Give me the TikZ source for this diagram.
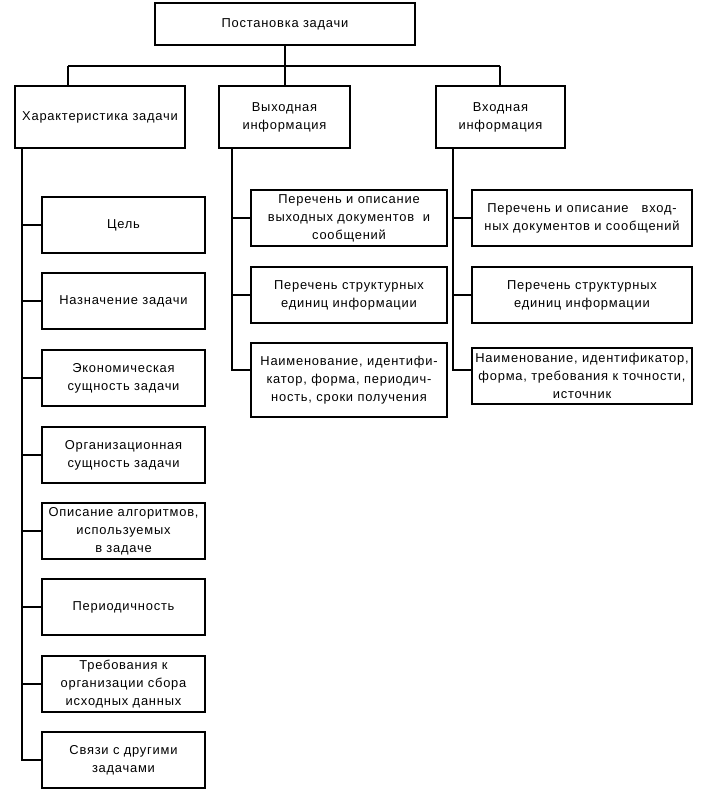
\documentclass[tikz,border=0pt]{standalone}
\usepackage{fontspec}
\setmainfont{Liberation Sans}[LetterSpace=6]
\begin{document}
\begin{tikzpicture}[x=1pt,y=-1pt,
  bx/.style={draw=black, line width=1.8pt, inner sep=0pt, align=center,
    font=\fontsize{12.9}{18}\selectfont},
  ln/.style={draw=black, line width=1.8pt},
  lft/.style={bx, minimum width=163, minimum height=56},
  mid/.style={bx, minimum width=196, minimum height=56},
  rgt/.style={bx, minimum width=220, minimum height=56}]
\useasboundingbox (0,0) rectangle (713,812);
\node[bx, minimum width=260, minimum height=42] (top) at (285,24) {Постановка задачи};
\node[bx, minimum width=170, minimum height=62] (c1) at (100,117) {Характеристика задачи};
\node[bx, minimum width=131, minimum height=62] (c2) at (284.5,117) {Выходная\\информация};
\node[bx, minimum width=129, minimum height=62] (c3) at (500.5,117) {Входная\\информация};
% tree
\coordinate (bus) at (285,66);
\coordinate (b1) at (68,66);
\coordinate (b3) at (500,66);
\draw[ln] (top.south) -- (bus);
\draw[ln] (b1) -- (b3);
\draw[ln] (b1) -- (b1 |- c1.north);
\draw[ln] (bus) -- (bus |- c2.north);
\draw[ln] (b3) -- (b3 |- c3.north);
% left column
\node[lft] (l1) at (123.5,225) {Цель};
\node[lft] (l2) at (123.5,301) {Назначение задачи};
\node[lft] (l3) at (123.5,378) {Экономическая\\сущность задачи};
\node[lft] (l4) at (123.5,455) {Организационная\\сущность задачи};
\node[lft] (l5) at (123.5,531) {Описание алгоритмов,\\используемых\\в задаче};
\node[lft] (l6) at (123.5,607) {Периодичность};
\node[lft] (l7) at (123.5,684) {Требования к\\организации сбора\\исходных данных};
\node[lft] (l8) at (123.5,760) {Связи с другими\\задачами};
\coordinate (ls) at (22,148);
\draw[ln] (ls) -- (ls |- l8.west) -- (l8.west);
\foreach \n in {l1,l2,l3,l4,l5,l6,l7}{\draw[ln] (ls |- \n.west) -- (\n.west);}
% middle column
\node[mid] (m1) at (349,218) {Перечень и описание\\выходных документов\ \ и\\сообщений};
\node[mid] (m2) at (349,295) {Перечень структурных\\единиц информации};
\node[mid, minimum height=74] (m3) at (349,380) {Наименование, идентифи-\\катор, форма, периодич-\\ность, сроки получения};
\coordinate (ms) at (232,148);
\coordinate (m3w) at (m3.west |- 0,370);
\draw[ln] (ms) -- (ms |- m3w) -- (m3w);
\draw[ln] (ms |- m1.west) -- (m1.west);
\draw[ln] (ms |- m2.west) -- (m2.west);
% right column
\node[rgt] (r1) at (582,218) {Перечень и описание\ \ \ вход-\\ных документов и сообщений};
\node[rgt] (r2) at (582,295) {Перечень структурных\\единиц информации};
\node[rgt] (r3) at (582,376) {Наименование, идентификатор,\\форма, требования к точности,\\источник};
\coordinate (rs) at (453,148);
\coordinate (r3w) at (r3.west |- 0,370);
\draw[ln] (rs) -- (rs |- r3w) -- (r3w);
\draw[ln] (rs |- r1.west) -- (r1.west);
\draw[ln] (rs |- r2.west) -- (r2.west);
\end{tikzpicture}
\end{document}
